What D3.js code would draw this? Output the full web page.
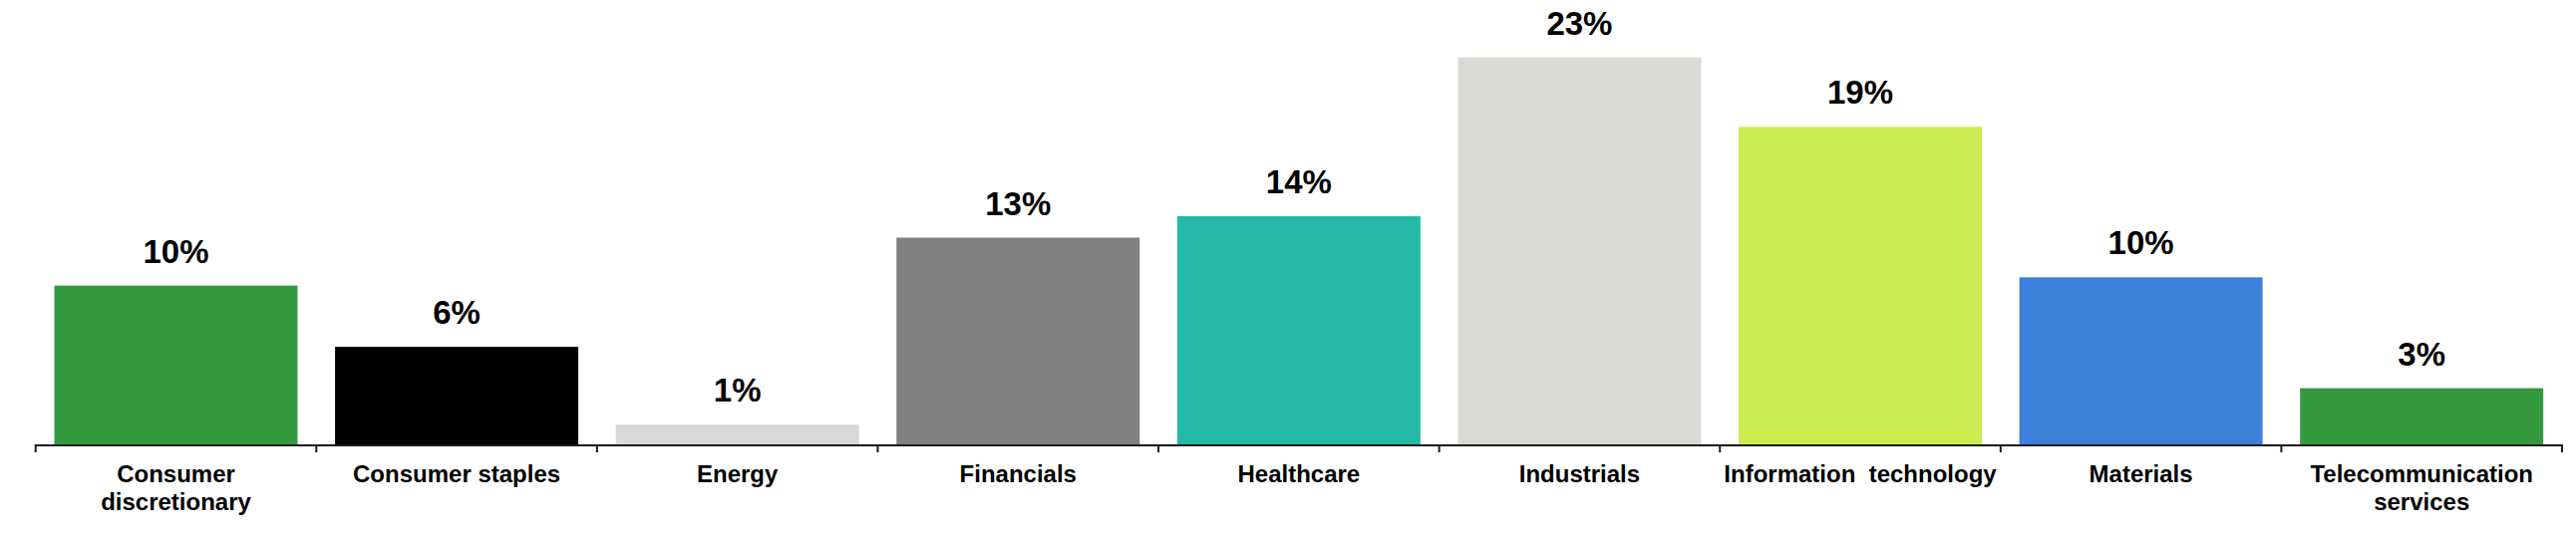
<!DOCTYPE html>
<html>
<head>
<meta charset="utf-8">
<script src="https://cdn.jsdelivr.net/npm/d3@7"></script>
<style>
  html, body { margin: 0; padding: 0; background: #fff; }
  svg { display: block; }
  text { font-family: "Liberation Sans", Arial, sans-serif; font-weight: bold; fill: #000; white-space: pre; }
</style>
</head>
<body>
<svg id="chart" width="2584" height="546"></svg>
<script>
const categories = [
  ["Consumer", "discretionary"],
  ["Consumer staples"],
  ["Energy"],
  ["Financials"],
  ["Healthcare"],
  ["Industrials"],
  ["Information  technology"],
  ["Materials"],
  ["Telecommunication", "services"]
];
const values = [9.6, 5.9, 1.2, 12.5, 13.8, 23.4, 19.2, 10.1, 3.4];
const valueLabels = ["10%", "6%", "1%", "13%", "14%", "23%", "19%", "10%", "3%"];
const colors = ["#339a40", "#000000", "#d9d9d9", "#808080", "#26b8a7", "#d9d9d5", "#cbeb50", "#3c7fda", "#339a40"];

const svg = d3.select("#chart");
const keys = categories.map((c, i) => i);

const axisY = 446;
const pIn = 0.1335;
const x = d3.scaleBand().domain(keys).range([35.7, 2570]).paddingInner(pIn).paddingOuter(pIn / 2);
const y = d3.scaleLinear().domain([0, 25]).range([axisY, axisY - 25 * 16.6]);

// bars
svg.append("g").selectAll("rect").data(values).join("rect")
  .attr("x", (d, i) => x(i))
  .attr("y", d => y(d))
  .attr("width", x.bandwidth())
  .attr("height", d => y(0) - y(d))
  .attr("fill", (d, i) => colors[i]);

// value labels
svg.append("g").selectAll("text").data(values).join("text")
  .attr("x", (d, i) => x(i) + x.bandwidth() / 2)
  .attr("y", d => y(d) - 23)
  .attr("text-anchor", "middle")
  .attr("font-size", 33)
  .text((d, i) => valueLabels[i]);

// axis line + boundary ticks
const step = x.step();
const boundaries = keys.map(i => x(i) - step * pIn / 2).concat([x(keys[keys.length - 1]) + x.bandwidth() + step * pIn / 2]);
const ax = svg.append("g");
ax.append("line")
  .attr("x1", boundaries[0]).attr("x2", boundaries[boundaries.length - 1])
  .attr("y1", axisY + 1).attr("y2", axisY + 1)
  .attr("stroke", "#1a1a1a").attr("stroke-width", 2.2);
ax.selectAll("line.tick").data(boundaries).join("line")
  .attr("class", "tick")
  .attr("x1", d => d).attr("x2", d => d)
  .attr("y1", axisY).attr("y2", axisY + 8)
  .attr("stroke", "#1a1a1a").attr("stroke-width", 2);

// category labels
const lab = svg.append("g").selectAll("text").data(categories).join("text")
  .attr("x", (d, i) => x(i) + x.bandwidth() / 2)
  .attr("y", 484)
  .attr("text-anchor", "middle")
  .attr("font-size", 24);
lab.each(function(lines, i) {
  const t = d3.select(this);
  lines.forEach((ln, j) => {
    t.append("tspan")
      .attr("x", x(i) + x.bandwidth() / 2)
      .attr("dy", j === 0 ? 0 : 27.7)
      .text(ln);
  });
});
</script>
</body>
</html>
